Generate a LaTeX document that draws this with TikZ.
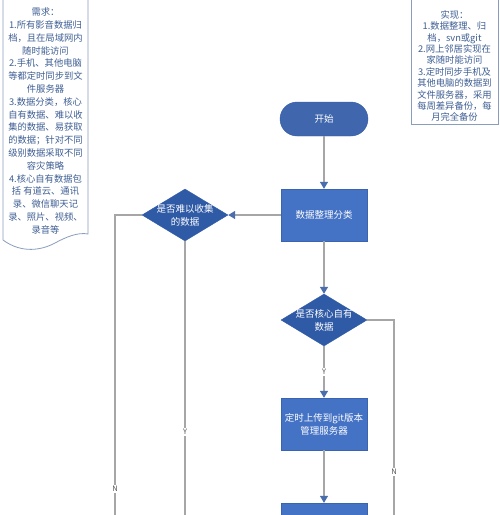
\documentclass[tikz,border=0pt]{standalone}
\usepackage{fontspec}
\setmainfont{Noto Sans CJK SC}
\usetikzlibrary{arrows.meta,shapes.geometric}
\definecolor{boxblue}{HTML}{4472C4}
\definecolor{boxedge}{HTML}{3A64B0}
\definecolor{diablue}{HTML}{2F5AA6}
\definecolor{linegray}{HTML}{A6A6A6}
\definecolor{tipblue}{HTML}{4A6DAE}
\definecolor{notetext}{HTML}{3F5F94}
\definecolor{noteedge}{HTML}{8A9DBD}
\definecolor{labgray}{HTML}{555555}
\tikzset{
  procbox/.style={rectangle,draw=boxedge,fill=boxblue,minimum width=86pt,minimum height=52pt,inner sep=0pt,text=white,align=center,font=\fontsize{9.5}{13}\selectfont},
  decbox/.style={diamond,draw=diablue,fill=diablue,minimum width=86pt,minimum height=52pt,inner sep=0pt},
  dectext/.style={text=white,align=center,font=\fontsize{9.5}{13}\selectfont,inner sep=0pt},
  termbox/.style={rectangle,rounded corners=17pt,draw=diablue,fill=diablue!92!white,minimum width=88pt,minimum height=34pt,inner sep=0pt,text=white,font=\fontsize{9.5}{12}\selectfont},
  conn/.style={draw=linegray,line width=1.3pt},
  arr/.style={conn,-{Triangle[length=7pt,width=8pt,color=tipblue]}},
  yn/.style={fill=white,text=labgray,inner sep=1pt,font=\fontsize{7.5}{9}\selectfont},
  notetxt/.style={text=notetext,align=center,inner sep=0pt},
  noteshape/.style={draw=noteedge,line width=0.8pt,fill=white}
}
\begin{document}
\begin{tikzpicture}[x=1pt,y=-1pt]
\useasboundingbox (0,0) rectangle (500,515);
% left note (document shape)
\draw[noteshape] (3,-3) -- (3,240) .. controls (22,254) and (42,250) .. (55,243) .. controls (66,237) and (78,232) .. (88,234) -- (88,-3);
\node[notetxt,font=\fontsize{9.3}{12.8}\selectfont] (need) at (45.5,121) {需求：\\1.所有影音数据归\\档，且在局域网内\\随时能访问\\2.手机、其他电脑\\等都定时同步到文\\件服务器\\3.数据分类，核心\\自有数据、难以收\\集的数据、易获取\\的数据；针对不同\\级别数据采取不同\\容灾策略\\4.核心自有数据包\\括 有道云、通讯\\录、微信聊天记\\录、照片、视频、\\录音等};
% right note
\draw[noteshape] (411,-3) rectangle (498,124);
\node[notetxt,font=\fontsize{9.3}{11.4}\selectfont] (impl) at (454.5,66) {实现：\\1.数据整理、归\\档，svn或git\\2.网上邻居实现在\\家随时能访问\\3.定时同步手机及\\其他电脑的数据到\\文件服务器，采用\\每周差异备份，每\\月完全备份};
% flow nodes
\node[termbox] (start) at (324,119) {开始};
\node[procbox] (proc) at (324,215) {数据整理分类};
\node[decbox] (d1) at (185,215) {};
\node[dectext] (d1t) at (185,215) {是否难以收集\\的数据};
\node[decbox] (d2) at (324,320) {};
\node[dectext] (d2t) at (324,320) {是否核心自有\\数据};
\node[procbox] (git) at (324,424) {定时上传到git版本\\管理服务器};
\node[procbox] (next) at (324,529) {};
\coordinate (lb) at (115,520);
\coordinate (rb) at (394,520);
% connectors
\draw[arr] (start.south) -- (proc.north);
\draw[arr] (proc.west) -- (d1.east);
\draw[conn] (d1.west) -- (d1.west -| lb) -- (lb);
\draw[conn] (d1.south) -- (d1.south |- lb);
\draw[arr] (proc.south) -- (d2.north);
\draw[conn] (d2.east) -- (d2.east -| rb) -- (rb);
\draw[arr] (d2.south) -- (git.north);
\draw[arr] (git.south) -- (next.north);
% labels
\node[yn] (n1) at (115,489) {N};
\node[yn] (y1) at (185,432) {Y};
\node[yn] (n2) at (394,472) {N};
\node[yn] (y2) at (324,372) {Y};
\end{tikzpicture}
\end{document}
